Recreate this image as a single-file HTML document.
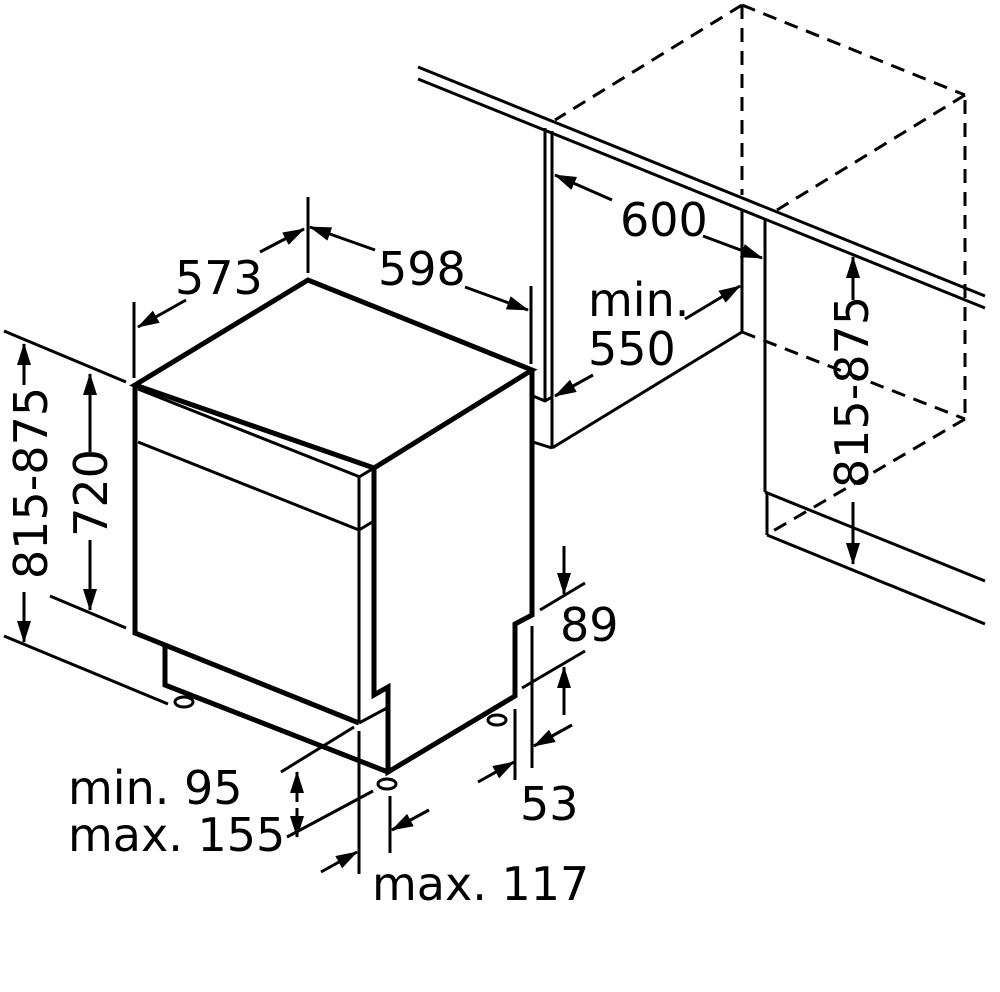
<!DOCTYPE html>
<html><head><meta charset="utf-8"><style>
html,body{margin:0;padding:0;background:#fff;}
svg{display:block;}
text{font-family:"DejaVu Sans","Liberation Sans",sans-serif;font-size:46px;fill:#000;}
</style></head><body>
<svg width="1000" height="992" viewBox="0 0 1000 992" xmlns="http://www.w3.org/2000/svg">
<defs>
<marker id="a" markerUnits="userSpaceOnUse" markerWidth="22" markerHeight="14" refX="21" refY="7" orient="auto-start-reverse">
<path d="M0,0 L22,7 L0,14 Z" fill="#000"/></marker>
</defs>
<g fill="none" stroke="#000" stroke-width="3" stroke-linecap="butt">
<!-- counter -->
<line x1="418" y1="67" x2="985" y2="296"/>
<line x1="418" y1="79" x2="985" y2="308"/>
<!-- dashed cabinet -->
<g stroke-dasharray="14,9">
<line x1="742" y1="5" x2="555" y2="120"/>
<line x1="742" y1="5" x2="965" y2="95"/>
<line x1="965" y1="95" x2="777" y2="210"/>
<line x1="965" y1="100" x2="965" y2="419"/>
<line x1="742" y1="5" x2="742" y2="195"/>
<line x1="742" y1="332" x2="965" y2="419"/>
<line x1="965" y1="419" x2="773" y2="531"/>
</g>
<line x1="742" y1="210" x2="742" y2="332"/>
<line x1="742" y1="332" x2="552" y2="448"/>
<line x1="765" y1="220" x2="765" y2="492"/>
<line x1="765" y1="492" x2="985" y2="581"/>
<line x1="767" y1="492" x2="767" y2="535"/>
<line x1="767" y1="535" x2="985" y2="624"/>
<line x1="545" y1="128" x2="545" y2="400"/>
<line x1="552" y1="131" x2="552" y2="448"/>
<polyline points="533,396 545,401 552,397"/>
<line x1="533" y1="442" x2="552" y2="448"/>
<!-- dishwasher -->
<polygon points="135,385 308,280 532,370 374,468" stroke-width="5"/>
<polyline points="135,385 135,633 359,723" stroke-width="5"/>
<polyline points="532,370 532,615 515,624 515,696 388,772 388,687 374,695 374,468" stroke-width="5"/>
<line x1="138" y1="389" x2="360" y2="477"/>
<line x1="138" y1="442" x2="359" y2="530"/>
<line x1="359" y1="477" x2="359" y2="723"/>
<line x1="359" y1="477" x2="374" y2="468"/>
<line x1="359" y1="530" x2="374" y2="521"/>
<polyline points="359,723 387,708"/>
<polyline points="165,645 165,685 388,772" stroke-width="5"/>
<!-- feet -->
<ellipse cx="184" cy="702" rx="9" ry="5"/>
<ellipse cx="387" cy="784" rx="9" ry="5"/>
<ellipse cx="497" cy="720" rx="9" ry="5"/>
<!-- 573 / 598 -->
<line x1="134" y1="302" x2="134" y2="378"/>
<line x1="308" y1="197" x2="308" y2="273"/>
<line x1="531" y1="286" x2="531" y2="364"/>
<line x1="186" y1="300" x2="138" y2="327" marker-end="url(#a)"/>
<line x1="260" y1="252" x2="304" y2="229" marker-end="url(#a)"/>
<line x1="375" y1="250" x2="310" y2="227" marker-end="url(#a)"/>
<line x1="465" y1="287" x2="528" y2="310" marker-end="url(#a)"/>
<!-- left dims -->
<line x1="4" y1="331" x2="126" y2="382"/>
<line x1="4" y1="636" x2="168" y2="704"/>
<line x1="50" y1="596" x2="126" y2="628"/>
<line x1="24" y1="385" x2="24" y2="344" marker-end="url(#a)"/>
<line x1="24" y1="592" x2="24" y2="642" marker-end="url(#a)"/>
<line x1="90" y1="452" x2="90" y2="374" marker-end="url(#a)"/>
<line x1="90" y1="540" x2="90" y2="610" marker-end="url(#a)"/>
<!-- 89 / 53 -->
<line x1="540" y1="610" x2="585" y2="583"/>
<line x1="522" y1="688" x2="585" y2="651"/>
<line x1="564" y1="546" x2="564" y2="594" marker-end="url(#a)"/>
<line x1="564" y1="715" x2="564" y2="667" marker-end="url(#a)"/>
<line x1="515" y1="709" x2="515" y2="780"/>
<line x1="532" y1="626" x2="532" y2="768"/>
<line x1="478" y1="782" x2="514" y2="762" marker-end="url(#a)"/>
<line x1="572" y1="725" x2="534" y2="746" marker-end="url(#a)"/>
<!-- min95 / max117 -->
<line x1="281" y1="772" x2="354" y2="727"/>
<line x1="287" y1="837" x2="373" y2="791"/>
<line x1="297" y1="802" x2="297" y2="772" marker-end="url(#a)"/>
<line x1="297" y1="808" x2="297" y2="837" marker-end="url(#a)"/>
<line x1="359" y1="731" x2="359" y2="874"/>
<line x1="390" y1="796" x2="390" y2="853"/>
<line x1="321" y1="872" x2="357" y2="852" marker-end="url(#a)"/>
<line x1="429" y1="810" x2="392" y2="830" marker-end="url(#a)"/>
<!-- cabinet dims -->
<line x1="612" y1="200" x2="555" y2="175" marker-end="url(#a)"/>
<line x1="703" y1="236" x2="762" y2="258" marker-end="url(#a)"/>
<line x1="685" y1="319" x2="740" y2="286" marker-end="url(#a)"/>
<line x1="593" y1="375" x2="555" y2="396" marker-end="url(#a)"/>
<line x1="853" y1="300" x2="853" y2="257" marker-end="url(#a)"/>
<line x1="853" y1="502" x2="853" y2="564" marker-end="url(#a)"/>
</g>
<text x="175" y="294">573</text>
<text x="378" y="285">598</text>
<text x="620" y="236">600</text>
<text x="588" y="316">min.</text>
<text x="588" y="365">550</text>
<text x="560" y="641">89</text>
<text x="520" y="820">53</text>
<text x="68" y="804">min. 95</text>
<text x="68" y="851">max. 155</text>
<text x="372" y="900">max. 117</text>
<text transform="translate(47,483) rotate(-90)" text-anchor="middle">815-875</text>
<text transform="translate(107,493) rotate(-90)" text-anchor="middle">720</text>
<text transform="translate(868,392) rotate(-90)" text-anchor="middle">815-875</text>
</svg>
</body></html>
